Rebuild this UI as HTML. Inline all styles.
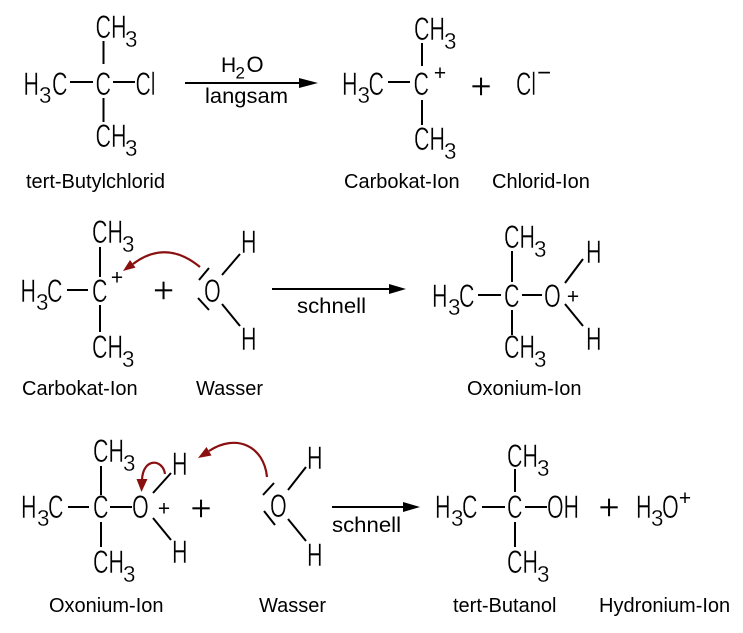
<!DOCTYPE html>
<html><head><meta charset="utf-8"><style>
html,body{margin:0;padding:0;background:#fff;}
svg{display:block;}
text{font-family:"Liberation Sans",Arial,sans-serif;fill:#000;}
.s{font-size:32px;stroke:#fff;stroke-width:0.45px;}
.b{font-size:23px;stroke:#fff;stroke-width:0.3px;}
.l{font-size:20px;}
.p{font-size:21px;}
.o{font-size:37px;stroke:#fff;stroke-width:0.6px;}
line{stroke:#000;stroke-width:2;}
.r{stroke:#8a1010;stroke-width:2.2;fill:none;}
</style></head><body>
<svg width="743" height="633" viewBox="0 0 743 633" xmlns="http://www.w3.org/2000/svg">
<rect width="743" height="633" fill="#fff"/>

<!-- ROW 1 left: tert-Butylchlorid -->
<text class="s" x="95.5" y="38" textLength="31" lengthAdjust="spacingAndGlyphs">CH</text>
<text class="b" x="125" y="47" textLength="12.5" lengthAdjust="spacingAndGlyphs">3</text>
<line x1="103.5" y1="41" x2="103.5" y2="64"/>
<text class="s" x="23.5" y="95" textLength="15.5" lengthAdjust="spacingAndGlyphs">H</text>
<text class="b" x="39" y="103" textLength="12.5" lengthAdjust="spacingAndGlyphs">3</text>
<text class="s" x="52" y="95" textLength="15.5" lengthAdjust="spacingAndGlyphs">C</text>
<line x1="70" y1="82" x2="93" y2="82"/>
<text class="s" x="95.5" y="95" textLength="15.5" lengthAdjust="spacingAndGlyphs">C</text>
<line x1="113" y1="82" x2="135" y2="82"/>
<text class="s" x="135.5" y="95" textLength="20" lengthAdjust="spacingAndGlyphs">Cl</text>
<line x1="103.5" y1="98" x2="103.5" y2="122"/>
<text class="s" x="95.5" y="147" textLength="31" lengthAdjust="spacingAndGlyphs">CH</text>
<text class="b" x="125" y="156" textLength="12.5" lengthAdjust="spacingAndGlyphs">3</text>

<!-- arrow 1 -->
<line x1="185" y1="83" x2="302" y2="83"/>
<polygon points="299,78 318,83 299,88" fill="#000"/>
<text x="221" y="72" style="font-size:21px">H</text>
<text x="235.5" y="78.5" style="font-size:17px">2</text>
<text x="246.5" y="72" style="font-size:22px">O</text>
<text x="205" y="103" style="font-size:21px" textLength="83" lengthAdjust="spacingAndGlyphs">langsam</text>

<!-- ROW 1 right: carbocation -->
<text class="s" x="414" y="40" textLength="31" lengthAdjust="spacingAndGlyphs">CH</text>
<text class="b" x="444" y="49" textLength="12.5" lengthAdjust="spacingAndGlyphs">3</text>
<line x1="422" y1="43" x2="422" y2="66"/>
<text class="s" x="342" y="95" textLength="15.5" lengthAdjust="spacingAndGlyphs">H</text>
<text class="b" x="357.5" y="103" textLength="12.5" lengthAdjust="spacingAndGlyphs">3</text>
<text class="s" x="368.5" y="95" textLength="15.5" lengthAdjust="spacingAndGlyphs">C</text>
<line x1="388" y1="82" x2="410" y2="82"/>
<text class="s" x="413.5" y="95" textLength="15.5" lengthAdjust="spacingAndGlyphs">C</text>
<text class="p" x="440" y="80" text-anchor="middle">+</text>
<line x1="422" y1="100" x2="422" y2="125"/>
<text class="s" x="414" y="150" textLength="31" lengthAdjust="spacingAndGlyphs">CH</text>
<text class="b" x="444" y="159" textLength="12.5" lengthAdjust="spacingAndGlyphs">3</text>
<text class="o" x="481" y="99" text-anchor="middle">+</text>
<text class="s" x="516" y="95" textLength="20" lengthAdjust="spacingAndGlyphs">Cl</text>
<text class="p" x="544" y="80.5" text-anchor="middle" style="font-size:24px">−</text>

<!-- labels row 1 -->
<text class="l" x="26" y="188">tert-Butylchlorid</text>
<text class="l" x="344" y="188">Carbokat-Ion</text>
<text class="l" x="492" y="188">Chlorid-Ion</text>

<!-- ROW 2 left: carbocation -->
<text class="s" x="92" y="243" textLength="31" lengthAdjust="spacingAndGlyphs">CH</text>
<text class="b" x="122" y="252" textLength="12.5" lengthAdjust="spacingAndGlyphs">3</text>
<line x1="100" y1="247" x2="100" y2="277"/>
<text class="s" x="20.5" y="302" textLength="15.5" lengthAdjust="spacingAndGlyphs">H</text>
<text class="b" x="36" y="310" textLength="12.5" lengthAdjust="spacingAndGlyphs">3</text>
<text class="s" x="47" y="302" textLength="15.5" lengthAdjust="spacingAndGlyphs">C</text>
<line x1="67" y1="290" x2="88" y2="290"/>
<text class="s" x="92" y="302" textLength="15.5" lengthAdjust="spacingAndGlyphs">C</text>
<text class="p" x="117" y="284.5" text-anchor="middle">+</text>
<line x1="100" y1="305" x2="100" y2="332"/>
<text class="s" x="92" y="358" textLength="31" lengthAdjust="spacingAndGlyphs">CH</text>
<text class="b" x="122" y="367" textLength="12.5" lengthAdjust="spacingAndGlyphs">3</text>
<text class="o" x="163.5" y="303" text-anchor="middle">+</text>

<!-- water row 2 -->
<line x1="199" y1="280" x2="209" y2="268"/>
<line x1="198" y1="298" x2="209" y2="310"/>
<text class="s" x="204" y="302" textLength="16.7" lengthAdjust="spacingAndGlyphs">O</text>
<line x1="222" y1="275" x2="240" y2="254"/>
<line x1="222" y1="304" x2="240" y2="326"/>
<text class="s" x="241" y="253" textLength="15.5" lengthAdjust="spacingAndGlyphs">H</text>
<text class="s" x="241" y="350" textLength="15.5" lengthAdjust="spacingAndGlyphs">H</text>
<!-- red arrow row 2 -->
<path class="r" d="M200,267 Q166,239 133,264"/>
<polygon points="123,271 135.5,267.6 130,260" fill="#8a1010"/>

<!-- arrow 2 -->
<line x1="272" y1="289" x2="392" y2="289"/>
<polygon points="389,284 406,289 389,294" fill="#000"/>
<text x="297" y="313" style="font-size:21px" textLength="69" lengthAdjust="spacingAndGlyphs">schnell</text>

<!-- ROW 2 right: oxonium -->
<text class="s" x="504" y="248" textLength="31" lengthAdjust="spacingAndGlyphs">CH</text>
<text class="b" x="534" y="257" textLength="12.5" lengthAdjust="spacingAndGlyphs">3</text>
<line x1="512" y1="251" x2="512" y2="282"/>
<text class="s" x="432" y="307" textLength="15.5" lengthAdjust="spacingAndGlyphs">H</text>
<text class="b" x="448" y="315" textLength="12.5" lengthAdjust="spacingAndGlyphs">3</text>
<text class="s" x="459" y="307" textLength="15.5" lengthAdjust="spacingAndGlyphs">C</text>
<line x1="478" y1="295" x2="501" y2="295"/>
<text class="s" x="504" y="307" textLength="15.5" lengthAdjust="spacingAndGlyphs">C</text>
<line x1="522" y1="295" x2="542" y2="295"/>
<text class="s" x="544" y="307" textLength="16.7" lengthAdjust="spacingAndGlyphs">O</text>
<text class="p" x="573" y="303.5" text-anchor="middle">+</text>
<line x1="565" y1="283" x2="583" y2="259"/>
<line x1="565" y1="304" x2="583" y2="326"/>
<text class="s" x="586" y="263" textLength="15.5" lengthAdjust="spacingAndGlyphs">H</text>
<text class="s" x="586" y="350" textLength="15.5" lengthAdjust="spacingAndGlyphs">H</text>
<line x1="512" y1="310" x2="512" y2="335"/>
<text class="s" x="504" y="358" textLength="31" lengthAdjust="spacingAndGlyphs">CH</text>
<text class="b" x="534" y="367" textLength="12.5" lengthAdjust="spacingAndGlyphs">3</text>

<!-- labels row 2 -->
<text class="l" x="22" y="395">Carbokat-Ion</text>
<text class="l" x="196" y="395">Wasser</text>
<text class="l" x="467" y="395">Oxonium-Ion</text>

<!-- ROW 3 left: oxonium -->
<text class="s" x="93" y="462" textLength="31" lengthAdjust="spacingAndGlyphs">CH</text>
<text class="b" x="123" y="471" textLength="12.5" lengthAdjust="spacingAndGlyphs">3</text>
<line x1="101" y1="466" x2="101" y2="495"/>
<text class="s" x="21" y="518" textLength="15.5" lengthAdjust="spacingAndGlyphs">H</text>
<text class="b" x="37" y="526" textLength="12.5" lengthAdjust="spacingAndGlyphs">3</text>
<text class="s" x="48" y="518" textLength="15.5" lengthAdjust="spacingAndGlyphs">C</text>
<line x1="68" y1="507" x2="89" y2="507"/>
<text class="s" x="93" y="518" textLength="15.5" lengthAdjust="spacingAndGlyphs">C</text>
<line x1="110" y1="507" x2="132" y2="507"/>
<text class="s" x="132" y="518" textLength="16.7" lengthAdjust="spacingAndGlyphs">O</text>
<text class="p" x="164" y="515.5" text-anchor="middle">+</text>
<line x1="153" y1="493" x2="171" y2="473"/>
<line x1="153" y1="518" x2="171" y2="540"/>
<text class="s" x="172" y="475" textLength="15.5" lengthAdjust="spacingAndGlyphs">H</text>
<text class="s" x="172" y="563" textLength="15.5" lengthAdjust="spacingAndGlyphs">H</text>
<line x1="101" y1="522" x2="101" y2="547"/>
<text class="s" x="93" y="573" textLength="31" lengthAdjust="spacingAndGlyphs">CH</text>
<text class="b" x="123" y="582" textLength="12.5" lengthAdjust="spacingAndGlyphs">3</text>
<!-- small red arrow -->
<path class="r" d="M165,474 C163,459 143,457 142,480"/>
<polygon points="136.5,479 147.5,479 141.5,492" fill="#8a1010"/>

<text class="o" x="201" y="521" text-anchor="middle">+</text>

<!-- big red arrow -->
<path class="r" d="M267,477 C264,446 236,433 209,451"/>
<polygon points="198,458 211.5,455.5 206.5,447" fill="#8a1010"/>

<!-- water row 3 -->
<line x1="263" y1="495" x2="274" y2="483"/>
<line x1="264" y1="511" x2="275" y2="525"/>
<text class="s" x="270" y="517" textLength="16.7" lengthAdjust="spacingAndGlyphs">O</text>
<line x1="288" y1="490" x2="306" y2="467"/>
<line x1="288" y1="519" x2="306" y2="541"/>
<text class="s" x="307" y="469" textLength="15.5" lengthAdjust="spacingAndGlyphs">H</text>
<text class="s" x="307" y="566" textLength="15.5" lengthAdjust="spacingAndGlyphs">H</text>

<!-- arrow 3 -->
<line x1="332" y1="507" x2="405" y2="507"/>
<polygon points="403,502 420,507 403,512" fill="#000"/>
<text x="332" y="532" style="font-size:21px" textLength="69" lengthAdjust="spacingAndGlyphs">schnell</text>

<!-- ROW 3 right: tert-Butanol -->
<text class="s" x="507" y="467" textLength="31" lengthAdjust="spacingAndGlyphs">CH</text>
<text class="b" x="537" y="476" textLength="12.5" lengthAdjust="spacingAndGlyphs">3</text>
<line x1="515" y1="469" x2="515" y2="492"/>
<text class="s" x="435" y="518" textLength="15.5" lengthAdjust="spacingAndGlyphs">H</text>
<text class="b" x="451" y="526" textLength="12.5" lengthAdjust="spacingAndGlyphs">3</text>
<text class="s" x="462" y="518" textLength="15.5" lengthAdjust="spacingAndGlyphs">C</text>
<line x1="482" y1="507" x2="505" y2="507"/>
<text class="s" x="507" y="518" textLength="15.5" lengthAdjust="spacingAndGlyphs">C</text>
<line x1="525" y1="507" x2="547" y2="507"/>
<text class="s" x="547" y="518" textLength="32" lengthAdjust="spacingAndGlyphs">OH</text>
<line x1="515" y1="522" x2="515" y2="547"/>
<text class="s" x="507" y="573" textLength="31" lengthAdjust="spacingAndGlyphs">CH</text>
<text class="b" x="537" y="582" textLength="12.5" lengthAdjust="spacingAndGlyphs">3</text>
<text class="o" x="609" y="520" text-anchor="middle">+</text>
<text class="s" x="636" y="518" textLength="15.5" lengthAdjust="spacingAndGlyphs">H</text>
<text class="b" x="651" y="526" textLength="12.5" lengthAdjust="spacingAndGlyphs">3</text>
<text class="s" x="662" y="518" textLength="16.7" lengthAdjust="spacingAndGlyphs">O</text>
<text class="p" x="685" y="505" text-anchor="middle">+</text>

<!-- labels row 3 -->
<text class="l" x="49" y="612">Oxonium-Ion</text>
<text class="l" x="259" y="612">Wasser</text>
<text class="l" x="453" y="612">tert-Butanol</text>
<text class="l" x="599" y="612">Hydronium-Ion</text>
</svg>
</body></html>
